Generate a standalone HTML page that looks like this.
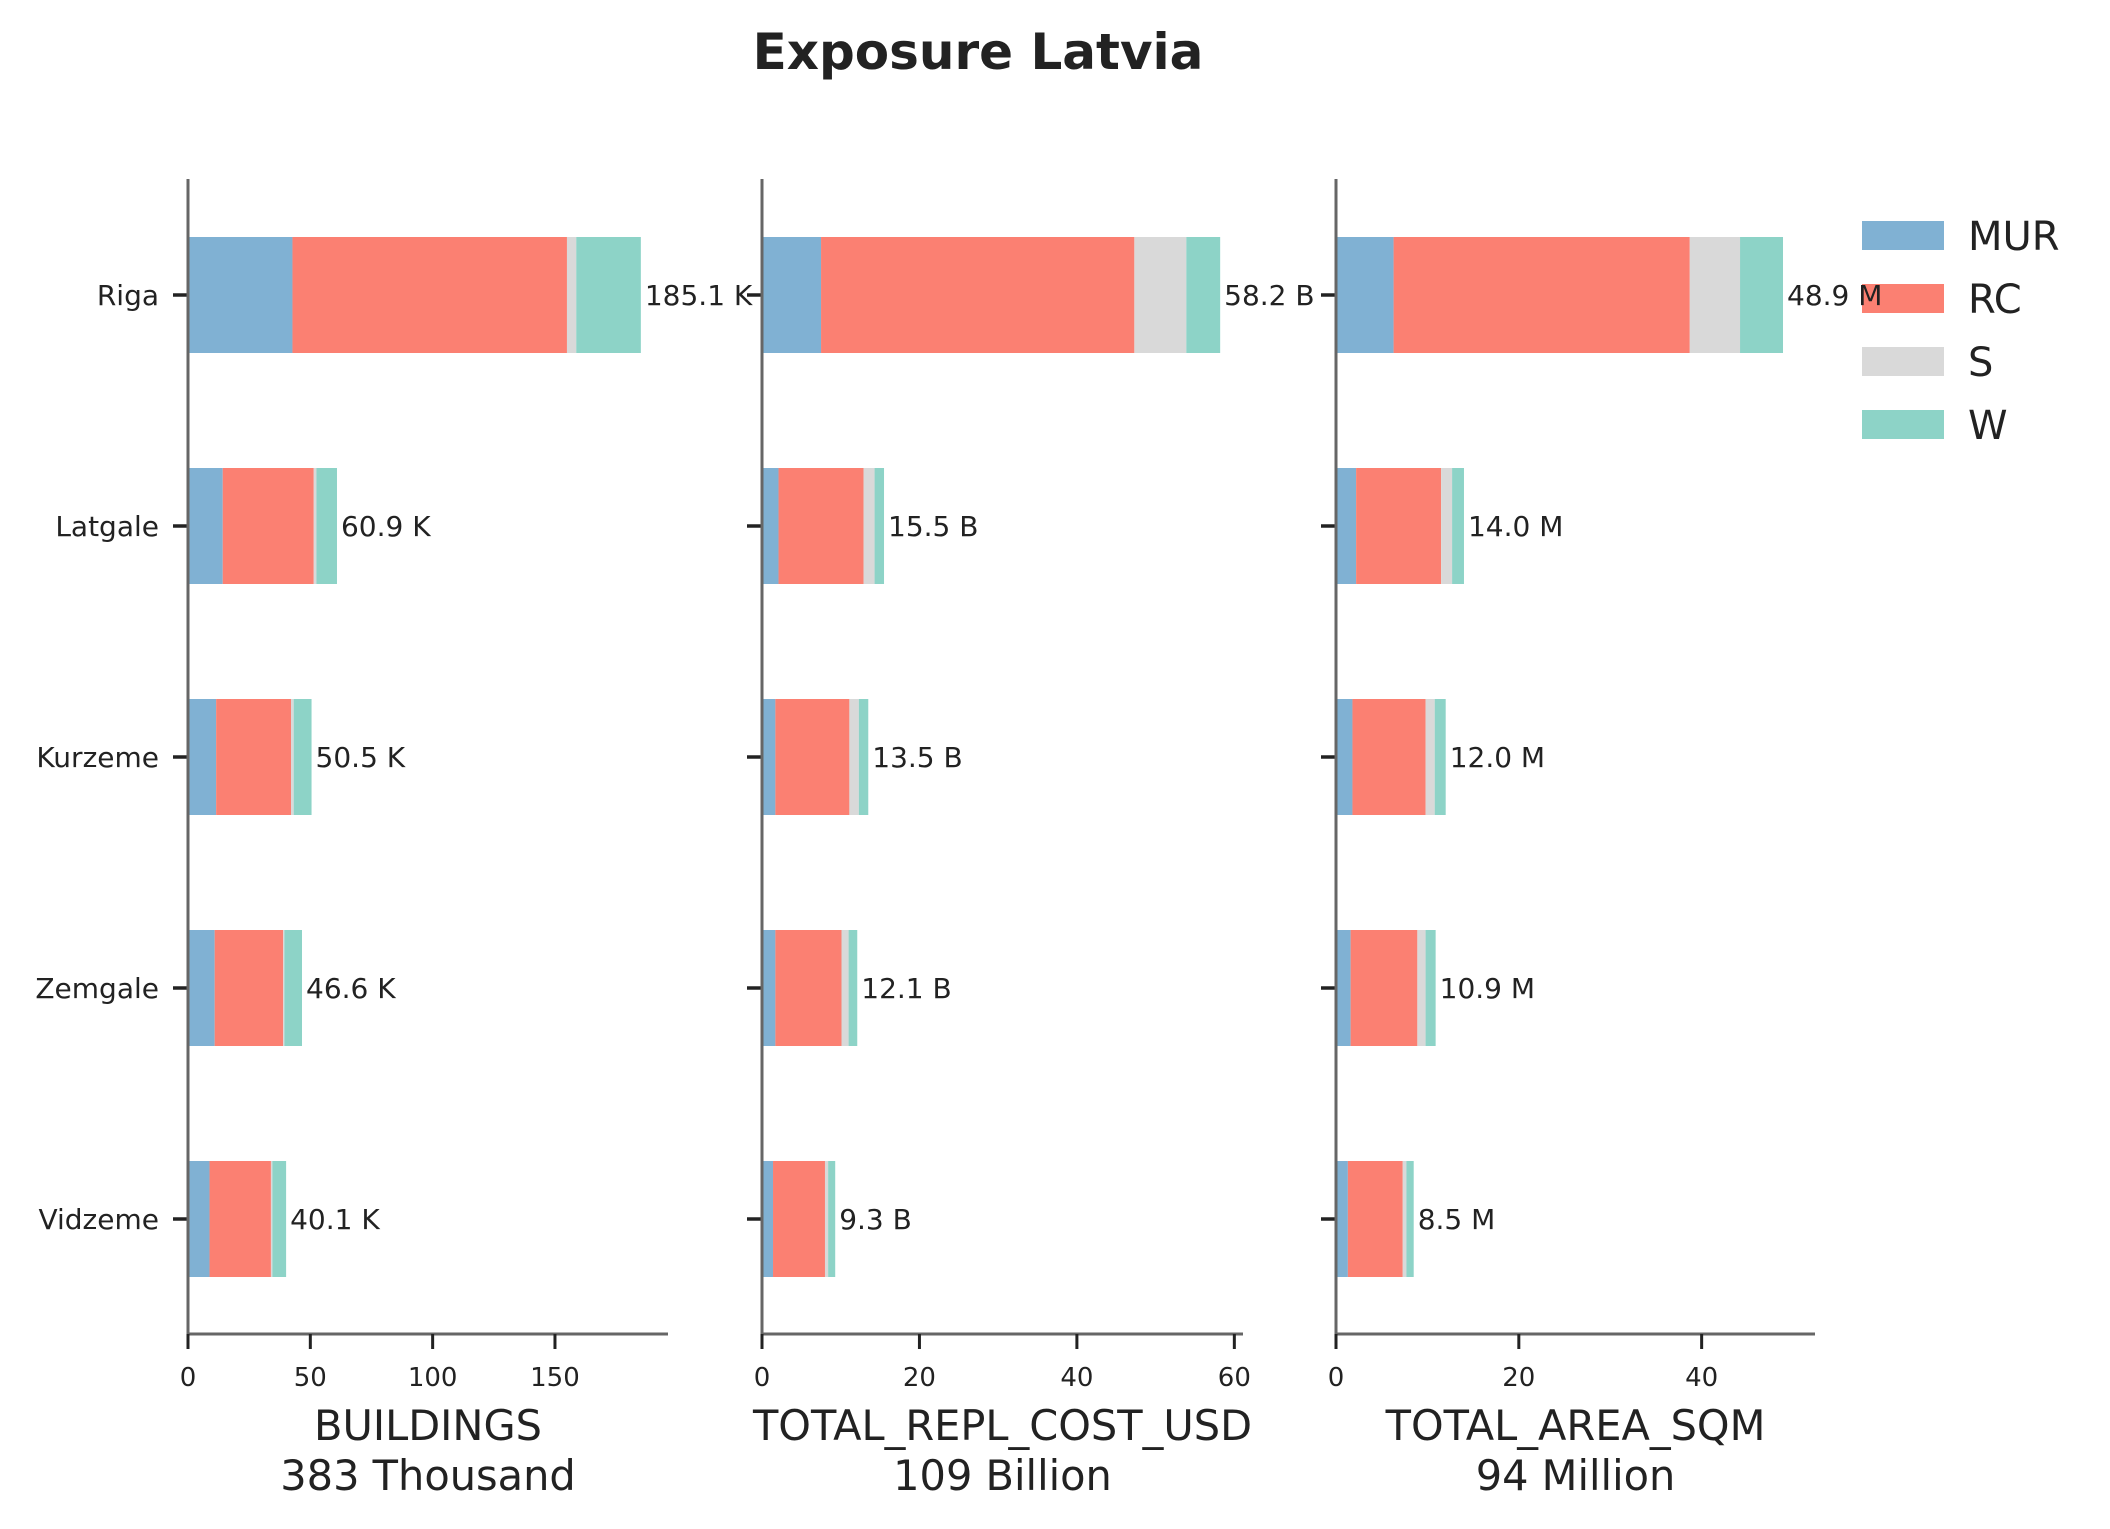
<!DOCTYPE html>
<html><head><meta charset="utf-8"><style>
html,body{margin:0;padding:0;background:#fff}
svg{display:block;font-family:"DejaVu Sans","Liberation Sans",sans-serif}
</style></head><body>
<svg id="chart" width="2110" height="1529" viewBox="0 0 2110 1529" xmlns="http://www.w3.org/2000/svg">
<text x="978" y="69" text-anchor="middle" font-size="50" font-weight="bold" fill="#222">Exposure Latvia</text>
<g id="legend"></g>
</svg>
<script>
const regions = ["Riga","Latgale","Kurzeme","Zemgale","Vidzeme"];
const seriesNames = ["MUR","RC","S","W"];
const colors = ["#80b1d3","#fb8072","#d9d9d9","#8dd3c7"];
// panel 1: buildings (thousands)
const bMUR = [42.7,14.2,11.5,10.9,8.8];
const bRC  = [112.2,37.2,30.6,28.0,25.1];
const bS   = [3.8,1.1,1.1,0.5,0.6];
const bW   = [26.4,8.4,7.3,7.2,5.6];
const bLabels = ["185.1 K","60.9 K","50.5 K","46.6 K","40.1 K"];
// panel 2: replacement cost (billions)
const cMUR = [7.5,2.1,1.7,1.7,1.4];
const cRC  = [39.8,10.8,9.4,8.4,6.6];
const cS   = [6.6,1.4,1.2,0.9,0.4];
const cW   = [4.3,1.2,1.2,1.1,0.9];
const cLabels = ["58.2 B","15.5 B","13.5 B","12.1 B","9.3 B"];
// panel 3: area (millions sqm)
const aMUR = [6.3,2.2,1.8,1.6,1.3];
const aRC  = [32.4,9.3,8.0,7.3,6.0];
const aS   = [5.5,1.2,1.0,0.9,0.4];
const aW   = [4.7,1.3,1.2,1.1,0.8];
const aLabels = ["48.9 M","14.0 M","12.0 M","10.9 M","8.5 M"];
const ticks1 = [0,50,100,150];
const ticks2 = [0,20,40,60];
const ticks3 = [0,20,40];
const titles = [["BUILDINGS","383 Thousand"],["TOTAL_REPL_COST_USD","109 Billion"],["TOTAL_AREA_SQM","94 Million"]];

const NS="http://www.w3.org/2000/svg";
const svg=document.getElementById('chart');
function mk(tag,attrs,parent){const e=document.createElementNS(NS,tag);for(const k in attrs)e.setAttribute(k,attrs[k]);(parent||svg).appendChild(e);return e;}

const yTop=179, yBottom=1334, firstY=295, step=231, barH=116;
function yPos(i){return firstY+i*step;}
const panels=[
 {x0:188,x1:668,xmax:196.2,data:[bMUR,bRC,bS,bW],labels:bLabels,ticks:ticks1,name:'buildings',showCats:true},
 {x0:762,x1:1243,xmax:61.1,data:[cMUR,cRC,cS,cW],labels:cLabels,ticks:ticks2,name:'repl-cost',showCats:false},
 {x0:1336,x1:1815,xmax:52.4,data:[aMUR,aRC,aS,aW],labels:aLabels,ticks:ticks3,name:'area',showCats:false}
];
panels.forEach((p,pi)=>{
  const g=mk('g',{});
  
  
  const sx=v=>p.x0+v/p.xmax*(p.x1-p.x0);
  regions.forEach((r,i)=>{
    let cum=0;
    p.data.forEach((arr,si)=>{
      const v=arr[i];
      const rect=mk('rect',{x:sx(cum),y:yPos(i)-barH/2,width:Math.max(0,sx(cum+v)-sx(cum)),height:barH,fill:colors[si]},g);
      
      
      cum+=v;
    });
    const t=mk('text',{x:sx(cum)+4,y:yPos(i)+10,'font-size':28,fill:'#222'},g);
    t.textContent=p.labels[i];
    
    
    const tk=mk('line',{x1:p.x0-15,x2:p.x0,y1:yPos(i),y2:yPos(i),stroke:'#222','stroke-width':3.5},g);
    
    
    if(p.showCats){
      const c=mk('text',{x:p.x0-29,y:yPos(i)+10,'font-size':28,fill:'#222','text-anchor':'end'},g);
      c.textContent=r;
      
      
    }
  });
  const ys=mk('line',{x1:p.x0,x2:p.x0,y1:yTop,y2:yBottom+1.5,stroke:'#666','stroke-width':3},g);
  
  
  const xs=mk('line',{x1:p.x0-1.5,x2:p.x1,y1:yBottom,y2:yBottom,stroke:'#666','stroke-width':3},g);
  
  
  p.ticks.forEach(v=>{
    const l=mk('line',{x1:sx(v),x2:sx(v),y1:yBottom,y2:yBottom+15,stroke:'#222','stroke-width':3},g);
    
    
    const t=mk('text',{x:sx(v),y:yBottom+52,'font-size':26,fill:'#222','text-anchor':'middle'},g);
    t.textContent=v;
    
    
  });
  const cx=(p.x0+p.x1)/2;
  const t1=mk('text',{x:cx,y:1440,'font-size':41.5,fill:'#222','text-anchor':'middle'},g);
  t1.textContent=titles[pi][0];
  
  
  const t2=mk('text',{x:cx,y:1490,'font-size':41.5,fill:'#222','text-anchor':'middle'},g);
  t2.textContent=titles[pi][1];
  
  
});
const lg=document.getElementById('legend');
seriesNames.forEach((s,i)=>{
  const y=221+i*63;
  const r=mk('rect',{x:1862,y:y,width:82,height:29,fill:colors[i]},lg);
  
  
  const t=mk('text',{x:1968,y:y+29,'font-size':40,fill:'#222'},lg);
  t.textContent=s;
  
  
});
</script>
</body></html>
